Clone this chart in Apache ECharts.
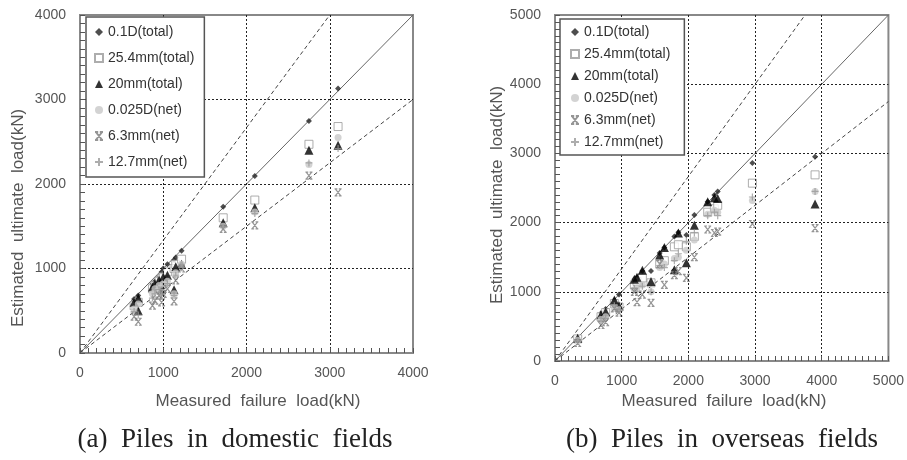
<!DOCTYPE html>
<html lang="en">
<head>
    <meta charset="UTF-8">
    <title>Estimated vs measured pile load</title>
    <script src="https://cdn.jsdelivr.net/npm/echarts@6/dist/echarts.min.js"></script>
    <style>
        body { margin: 0; background: #fff; }
    </style>
</head>
<body>
<div id="main" style="width: 907px;height:460px;"></div>
<script type="text/javascript">
    var names = ['0.1D(total)', '25.4mm(total)', '20mm(total)', '0.025D(net)', '6.3mm(net)', '12.7mm(net)'];

    // (a) domestic fields  [measured, estimated]
    var domD01 = [[650,640],[700,680],[870,820],[900,850],[950,900],[980,960],[1000,1000],[1050,1050],[1130,1100],[1150,1130],[1220,1210],[1720,1730],[2100,2095],[2750,2745],[3100,3130]];
    var domS254 = [[650,560],[700,600],[870,760],[900,800],[950,850],[980,880],[1000,900],[1050,960],[1130,1000],[1150,1050],[1220,1110],[1720,1600],[2100,1810],[2750,2470],[3100,2680]];
    var domT20 = [[650,600],[700,650],[700,500],[870,780],[900,820],[950,860],[980,750],[1000,900],[1050,920],[1130,750],[1150,1020],[1220,1050],[1720,1540],[2100,1720],[2750,2400],[3100,2460]];
    var domC025 = [[650,520],[700,580],[870,700],[900,760],[950,800],[980,720],[1000,820],[1050,850],[1130,700],[1150,950],[1220,1050],[1720,1500],[2100,1670],[2750,2230],[3100,2550]];
    var domX63 = [[650,430],[700,370],[870,560],[900,620],[950,680],[980,600],[1000,700],[1050,760],[1130,610],[1150,860],[1220,1000],[1720,1470],[2100,1510],[2750,2100],[3100,1900]];
    var domP127 = [[650,490],[700,450],[870,650],[900,700],[950,750],[980,680],[1000,780],[1050,820],[1130,680],[1150,920],[1220,1010],[1720,1490],[2100,1650],[2750,2250],[3100,2420]];

    // (b) overseas fields
    var ovsD01 = [[340,340],[690,690],[760,750],[890,880],[960,960],[1190,1180],[1230,1210],[1310,1300],[1440,1300],[1570,1560],[1640,1640],[1790,1800],[1850,1860],[1970,1820],[2090,2110],[2290,2300],[2390,2400],[2440,2450],[2960,2860],[3900,2950]];
    var ovsS254 = [[340,320],[690,640],[760,700],[890,830],[960,780],[1190,1100],[1230,1150],[1310,1200],[1440,1130],[1570,1400],[1640,1450],[1790,1650],[1850,1680],[1970,1650],[2090,1800],[2290,2150],[2390,2200],[2440,2250],[2960,2570],[3900,2690]];
    var ovsT20 = [[340,330],[690,670],[760,710],[890,880],[960,800],[1190,1180],[1230,1210],[1310,1310],[1440,1150],[1570,1530],[1640,1640],[1790,1320],[1850,1850],[1970,1420],[2090,1960],[2290,2300],[2390,2360],[2440,2350],[3900,2270]];
    var ovsC025 = [[340,300],[690,600],[760,640],[890,760],[960,740],[1190,1030],[1230,1060],[1310,1100],[1440,1000],[1570,1350],[1640,1400],[1790,1480],[1850,1500],[1970,1600],[2090,1750],[2290,2120],[2390,2180],[2440,2150],[2960,2320],[3900,2450]];
    var ovsX63 = [[340,260],[690,520],[760,560],[890,760],[960,700],[1190,1000],[1230,850],[1310,960],[1440,840],[1570,1400],[1640,1100],[1790,1240],[1850,1300],[1970,1200],[2090,1500],[2290,1900],[2390,1850],[2440,1870],[2960,1980],[3900,1920]];
    var ovsP127 = [[340,290],[690,580],[760,620],[890,800],[960,740],[1190,1050],[1230,1000],[1310,1080],[1440,1000],[1570,1380],[1640,1350],[1790,1450],[1850,1550],[1970,1730],[2090,1850],[2290,2100],[2390,2150],[2440,2100],[2960,2370],[3900,2450]];

    // reference lines: 1:1, and the ±25% ratio lines (endpoints)
    var domRef = [[[0,0],[4000,4000]], [[0,0],[3000,4000]], [[0,0],[4000,3000]]];
    var ovsRef = [[[0,0],[5000,5000]], [[0,0],[3750,5000]], [[0,0],[5000,3750]]];

    var domTicks = [0, 1000, 4000];
    var ovsTicks = [0, 1000, 5000];

    var symX = 'path://M0,0L4,0M6,0L10,0M0,10L4,10M6,10L10,10M1,0L9,10M9,0L1,10';
    var symPlus = 'path://M5,0L5,10M0,5L10,5';

    var styles = [
        {symbol: 'diamond', symbolSize: 6, itemStyle: {color: '#222'}},
        {symbol: 'rect', symbolSize: 8, itemStyle: {color: '#fff', borderColor: '#999', borderWidth: 1}},
        {symbol: 'triangle', symbolSize: 9, itemStyle: {color: '#000'}},
        {symbol: 'circle', symbolSize: 7, itemStyle: {color: '#c8c8c8'}},
        {symbol: symX, symbolSize: 7, itemStyle: {color: 'rgba(0,0,0,0)', borderColor: '#7a7a7a', borderWidth: 1.2}},
        {symbol: symPlus, symbolSize: 7, itemStyle: {color: 'rgba(0,0,0,0)', borderColor: '#999', borderWidth: 1.2}}
    ];

    var domData = [domD01, domS254, domT20, domC025, domX63, domP127];
    var ovsData = [ovsD01, ovsS254, ovsT20, ovsC025, ovsX63, ovsP127];

    function axis(grid, ticks, isY) {
        return {
            type: 'value', gridIndex: grid,
            min: ticks[0], max: ticks[2], interval: ticks[1],
            axisLine: {show: true, onZero: false, lineStyle: {color: '#888', width: 2}},
            axisTick: {show: true, inside: true, length: 5, lineStyle: {color: '#555', width: 1}},
            minorTick: {show: true, splitNumber: 10, length: 5, lineStyle: {color: '#555', width: 1}},
            splitLine: {show: true, showMinLine: false, showMaxLine: false, lineStyle: {color: '#222', type: [2, 2], width: 1}},
            axisLabel: {
                color: '#555', fontSize: 14, fontFamily: 'Liberation Sans',
                margin: isY ? 14 : 13,
                formatter: function (v) { return String(v); }
            },
            z: 10
        };
    }

    var series = [];
    [domRef, ovsRef].forEach(function (refs, g) {
        refs.forEach(function (r, i) {
            series.push({
                type: 'line', xAxisIndex: g, yAxisIndex: g, data: r, symbol: 'none', silent: true, z: 1,
                lineStyle: {color: i === 0 ? '#666' : '#444', width: 1, type: i === 0 ? 'solid' : [4, 3]}
            });
        });
    });
    [domData, ovsData].forEach(function (sets, g) {
        sets.forEach(function (d, i) {
            var s = {
                name: names[i], type: 'scatter', xAxisIndex: g, yAxisIndex: g, data: d, z: 3 + i
            };
            Object.assign(s, JSON.parse(JSON.stringify(styles[i])));
            series.push(s);
        });
    });

    function legend(left, top, gap, pad) {
        return {
            orient: 'vertical', left: left, top: top, data: names,
            backgroundColor: '#fff', borderColor: '#555', borderWidth: 1.5,
            padding: pad, itemGap: gap, itemWidth: 8, itemHeight: 8,
            selectedMode: false, z: 20,
            textStyle: {fontSize: 14, color: '#333', fontFamily: 'Liberation Sans'}
        };
    }

    var titleFont = '17px Liberation Sans';
    var capFont = '27px Liberation Serif';

    var option = {
        animation: false,
        grid: [
            {left: 80, top: 15, width: 333, height: 338, show: true, borderColor: '#888', borderWidth: 2, z: 0},
            {left: 555, top: 15, width: 337, height: 346, show: true, borderColor: '#888', borderWidth: 2, z: 0}
        ],
        xAxis: [axis(0, domTicks, false), axis(1, ovsTicks, false)],
        yAxis: [axis(0, domTicks, true), axis(1, ovsTicks, true)],
        legend: [
            legend(86, 17, 12, [8, 10, 8, 8]),
            legend(560, 19, 8, [6, 14, 6, 10])
        ],
        graphic: [
            {type: 'text', x: 18, y: 218, rotation: Math.PI / 2, style: {text: 'Estimated  ultimate  load(kN)', font: titleFont, fill: '#555', textAlign: 'center', textVerticalAlign: 'middle'}},
            {type: 'text', x: 497, y: 195, rotation: Math.PI / 2, style: {text: 'Estimated  ultimate  load(kN)', font: titleFont, fill: '#555', textAlign: 'center', textVerticalAlign: 'middle'}},
            {type: 'text', x: 258, y: 401, style: {text: 'Measured  failure  load(kN)', font: titleFont, fill: '#555', textAlign: 'center', textVerticalAlign: 'middle'}},
            {type: 'text', x: 724, y: 401, style: {text: 'Measured  failure  load(kN)', font: titleFont, fill: '#555', textAlign: 'center', textVerticalAlign: 'middle'}},
            {type: 'text', x: 235, y: 440, style: {text: '(a)  Piles  in  domestic  fields', font: capFont, fill: '#222', textAlign: 'center', textVerticalAlign: 'middle'}},
            {type: 'text', x: 722, y: 440, style: {text: '(b)  Piles  in  overseas  fields', font: capFont, fill: '#222', textAlign: 'center', textVerticalAlign: 'middle'}}
        ],
        series: series
    };

    var myChart = echarts.init(document.getElementById('main'));
    myChart.setOption(option);
</script>
</body>
</html>
